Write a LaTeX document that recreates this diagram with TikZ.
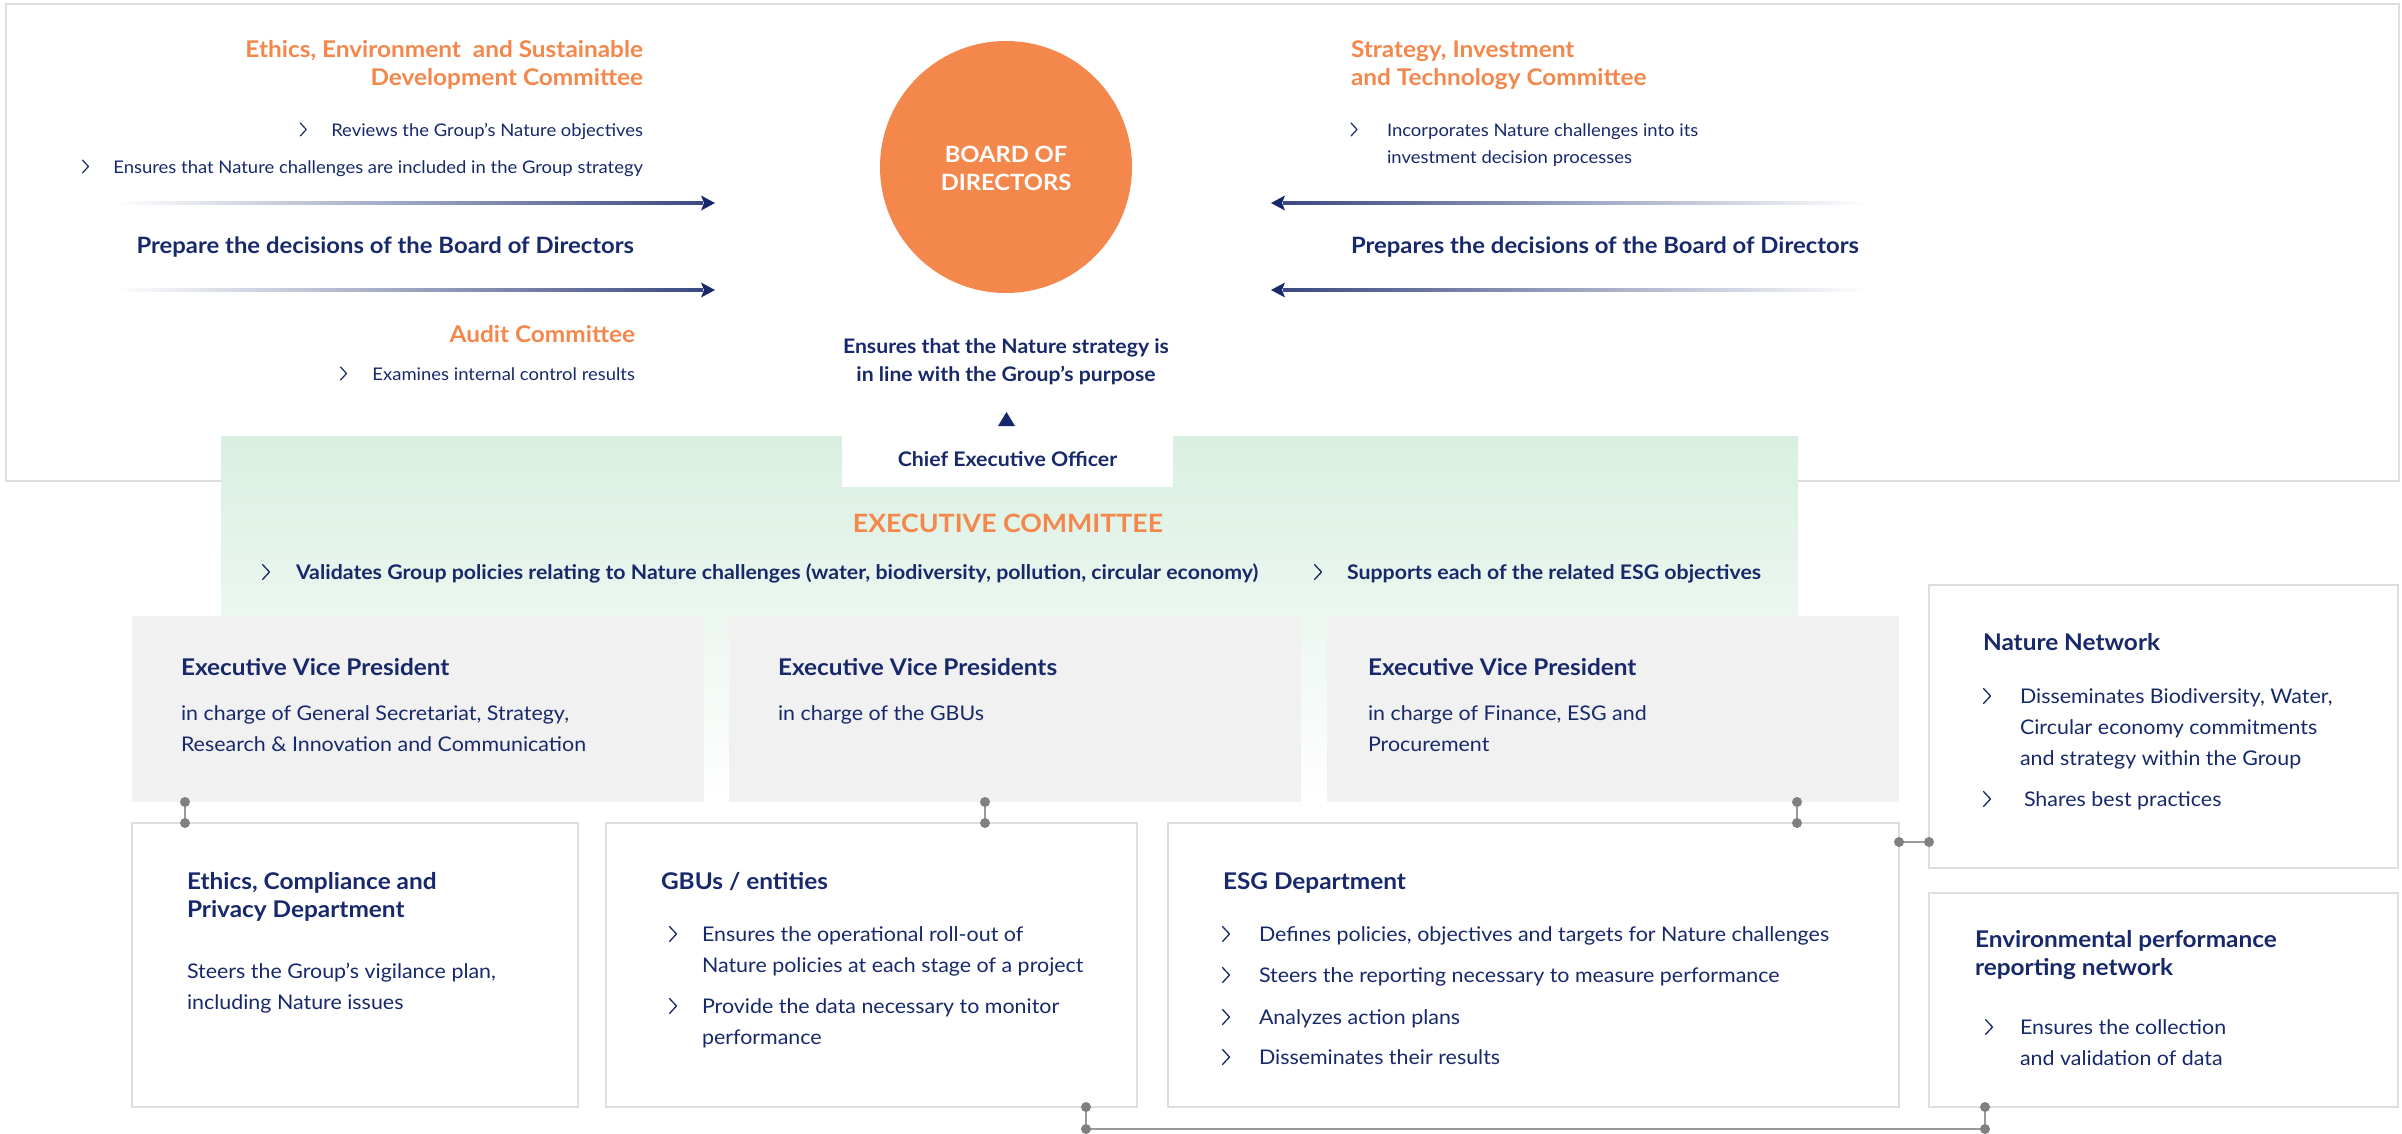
\documentclass[tikz,border=0pt]{standalone}
\usepackage{fontspec}
\setmainfont{Lato}[FakeStretch=1.06]
\usetikzlibrary{calc}
\definecolor{mnavy}{HTML}{17296B}
\definecolor{morange}{HTML}{F4874B}
\definecolor{mgreen}{HTML}{D9EFE1}
\definecolor{mgray}{HTML}{F1F1F1}
\definecolor{mborder}{HTML}{DEDEDE}
\definecolor{mconn}{HTML}{9A9A9A}
\definecolor{mdot}{HTML}{808080}
\begin{document}
\begin{tikzpicture}[x=1pt,y=-1pt,
  tx/.style={inner sep=0pt, outer sep=0pt, text=mnavy, align=left},
  bodyS/.style={tx, font=\fontsize{17.4}{27}\selectfont},
  body/.style={tx, font=\fontsize{20.2}{31}\selectfont},
  ttl/.style={tx, font=\bfseries\fontsize{23}{28}\selectfont},
  orh/.style={tx, text=morange, font=\bfseries\fontsize{23}{28}\selectfont},
  prep/.style={tx, font=\bfseries\fontsize{22.5}{28}\selectfont},
  purp/.style={tx, align=center, font=\bfseries\fontsize{20}{28}\selectfont},
  ecb/.style={tx, font=\bfseries\fontsize{20.1}{28}\selectfont},
  gbox/.style={fill=mgray, inner sep=0pt, outer sep=0pt, anchor=north west},
  wbox/.style={fill=white, draw=mborder, line width=2pt, inner sep=0pt, outer sep=0pt, anchor=north west},
  conn/.style={draw=mconn, line width=1.3pt},
  chev/.pic={\draw[mnavy, line width=1.3pt, line cap=round, line join=round] (-3.5,-7.5) -- (3.5,0) -- (-3.5,7.5);},
  chevs/.pic={\draw[mnavy, line width=1.2pt, line cap=round, line join=round] (-3,-6.5) -- (3,0) -- (-3,6.5);}
]
\useasboundingbox (0,0) rectangle (2402,1133);
\fill[white] (0,0) rectangle (2402,1133);

% top frame
\node[draw=mborder, line width=2pt, minimum width=2393pt, minimum height=477pt, inner sep=0pt, anchor=north west] (frame) at (5,3) {};

% board circle
\node[circle, fill=morange, minimum size=252pt, inner sep=0pt] (board) at (1006,167) {};
\node[tx, text=white, align=center, anchor=north, font=\bfseries\fontsize{22.4}{28}\selectfont] (boardt) at (1006,142.4) {\strut BOARD OF\\DIRECTORS};

% left group
\node[orh, align=right, anchor=north east] (ethc) at (643,37.4) {\strut Ethics, Environment\ \ and Sustainable\\Development Committee};
\node[bodyS, anchor=base east] (rev) at (643,136) {Reviews the Group’s Nature objectives};
\node[bodyS, anchor=base east] (ens) at (643,173) {Ensures that Nature challenges are included in the Group strategy};
\pic at ($(rev.base west)+(-28,-6.5)$) {chevs};
\pic at ($(ens.base west)+(-28,-6.5)$) {chevs};
\node[prep, anchor=base east] (prepL) at (634,253) {Prepare the decisions of the Board of Directors};
\node[orh, anchor=base east] (audit) at (635,342) {Audit Committee};
\node[bodyS, anchor=base east] (exa) at (635,380) {Examines internal control results};
\pic at ($(exa.base west)+(-29,-6.5)$) {chevs};

% left arrows
\coordinate (aL1) at (715,203);
\coordinate (aL2) at (715,290);
\foreach \a in {aL1,aL2}{
  \shade[left color=white, right color=mnavy!85] ($(\a)+(-600,-1.1)$) rectangle ($(\a)+(-12,1.1)$);
  \fill[mnavy] (\a) -- ++(-14,-7.5) -- ++(3,7.5) -- ++(-3,7.5) -- cycle;
}

% right group
\node[orh, anchor=north west] (strc) at (1351,37.4) {\strut Strategy, Investment\\and Technology Committee};
\node[bodyS, anchor=north west] (inc) at (1387,117.1) {\strut Incorporates Nature challenges into its\\investment decision processes};
\pic at (1354,129.5) {chevs};
\node[prep, anchor=base west] (prepR) at (1351,253) {Prepares the decisions of the Board of Directors};

% right arrows
\coordinate (aR1) at (1271,203);
\coordinate (aR2) at (1271,290);
\foreach \a in {aR1,aR2}{
  \shade[left color=mnavy!85, right color=white] ($(\a)+(12,-1.1)$) rectangle ($(\a)+(596,1.1)$);
  \fill[mnavy] (\a) -- ++(14,-7.5) -- ++(-3,7.5) -- ++(3,7.5) -- cycle;
}

% purpose
\node[purp, anchor=north] (purp) at (1006,333.4) {\strut Ensures that the Nature strategy is\\in line with the Group’s purpose};
\fill[mnavy] (998,426) -- (1006.5,412) -- (1015,426) -- cycle;

% executive committee area
\shade[top color=mgreen, bottom color=white] (221,436) rectangle (1798,800);
\node[fill=white, minimum width=331pt, minimum height=51pt, inner sep=0pt, anchor=north west] (ceobox) at (842,436) {};
\node[tx, anchor=base, font=\bfseries\fontsize{20.1}{28}\selectfont] (ceo) at (1007.5,466) {Chief Executive Officer};
\node[tx, text=morange, anchor=base, font=\bfseries\fontsize{25.2}{28}\selectfont] (ect) at (1008,532) {EXECUTIVE COMMITTEE};
\node[ecb, anchor=base west] (ecb1) at (296,579) {Validates Group policies relating to Nature challenges (water, biodiversity, pollution, circular economy)};
\node[ecb, anchor=base west] (ecb2) at (1347,579) {Supports each of the related ESG objectives};
\pic at (266,572) {chev};
\pic at (1318,572) {chev};

% EVP boxes
\node[gbox, minimum width=572pt, minimum height=186pt] (evp1) at (132,616) {};
\node[gbox, minimum width=572pt, minimum height=186pt] (evp2) at (729,616) {};
\node[gbox, minimum width=572pt, minimum height=186pt] (evp3) at (1327,616) {};
\node[ttl, anchor=base west] (evp1t) at (181,675) {Executive Vice President};
\node[ttl, anchor=base west] (evp2t) at (778,675) {Executive Vice Presidents};
\node[ttl, anchor=base west] (evp3t) at (1368,675) {Executive Vice President};
\node[body, anchor=north west] (evp1b) at (181,698.3) {\strut in charge of General Secretariat, Strategy,\\Research \& Innovation and Communication};
\node[body, anchor=north west] (evp2b) at (778,698.3) {\strut in charge of the GBUs};
\node[body, anchor=north west] (evp3b) at (1368,698.3) {\strut in charge of Finance, ESG and\\Procurement};

% Nature network
\node[wbox, minimum width=469pt, minimum height=283pt] (nn) at (1929,585) {};
\node[ttl, anchor=base west] (nnt) at (1983,650) {Nature Network};
\node[body, anchor=north west] (nnb1) at (2020,681.3) {\strut Disseminates Biodiversity, Water,\\Circular economy commitments\\and strategy within the Group};
\node[body, anchor=base west] (nnb2) at (2024,806) {Shares best practices};
\pic at (1987,696) {chev};
\pic at (1987,799) {chev};

% bottom boxes
\node[wbox, minimum width=446pt, minimum height=284pt] (ethd) at (132,823) {};
\node[wbox, minimum width=531pt, minimum height=284pt] (gbu) at (606,823) {};
\node[wbox, minimum width=731pt, minimum height=284pt] (esg) at (1168,823) {};
\node[wbox, minimum width=469pt, minimum height=214pt] (env) at (1929,893) {};

\node[ttl, anchor=north west] (ethdt) at (187,869.4) {\strut Ethics, Compliance and\\Privacy Department};
\node[body, anchor=north west] (ethdb) at (187,956.3) {\strut Steers the Group’s vigilance plan,\\including Nature issues};

\node[ttl, anchor=base west] (gbut) at (661,889) {GBUs / entities};
\node[body, anchor=north west] (gbub1) at (702,919.3) {\strut Ensures the operational roll-out of\\Nature policies at each stage of a project};
\node[body, anchor=north west] (gbub2) at (702,991.3) {\strut Provide the data necessary to monitor\\performance};
\pic at (673,934) {chev};
\pic at (673,1006) {chev};

\node[ttl, anchor=base west] (esgt) at (1223,889) {ESG Department};
\node[body, anchor=base west] (esgb1) at (1259,941) {Defines policies, objectives and targets for Nature challenges};
\node[body, anchor=base west] (esgb2) at (1259,982) {Steers the reporting necessary to measure performance};
\node[body, anchor=base west] (esgb3) at (1259,1024) {Analyzes action plans};
\node[body, anchor=base west] (esgb4) at (1259,1064) {Disseminates their results};
\foreach \yy in {934,975,1017,1057} \pic at (1226,\yy) {chev};

\node[ttl, anchor=north west] (envt) at (1975,927.4) {\strut Environmental performance\\reporting network};
\node[body, anchor=north west] (envb) at (2020,1012.3) {\strut Ensures the collection\\and validation of data};
\pic at (1989,1027) {chev};

% connectors
\draw[conn] ($(evp1.south west)+(53,0)$) coordinate (k1a) -- (k1a |- ethd.north) coordinate (k1b);
\draw[conn] ($(evp2.south west)+(256,0)$) coordinate (k2a) -- (k2a |- gbu.north) coordinate (k2b);
\draw[conn] ($(evp3.south west)+(470,0)$) coordinate (k3a) -- (k3a |- esg.north) coordinate (k3b);
\draw[conn] ($(esg.north east)+(0,19)$) coordinate (k4a) -- (k4a -| nn.west) coordinate (k4b);
\coordinate (k5a) at ($(gbu.south west)+(480,0)$);
\coordinate (k5d) at ($(env.south west)+(56,0)$);
\coordinate (k5b) at ($(k5a)+(0,22)$);
\draw[conn] (k5a) -- (k5b) -- (k5b -| k5d) coordinate (k5c) -- (k5d);
\foreach \p in {k1a,k1b,k2a,k2b,k3a,k3b,k4a,k4b,k5a,k5b,k5c,k5d}
  \fill[mdot] (\p) circle (5pt);
\end{tikzpicture}
\end{document}
